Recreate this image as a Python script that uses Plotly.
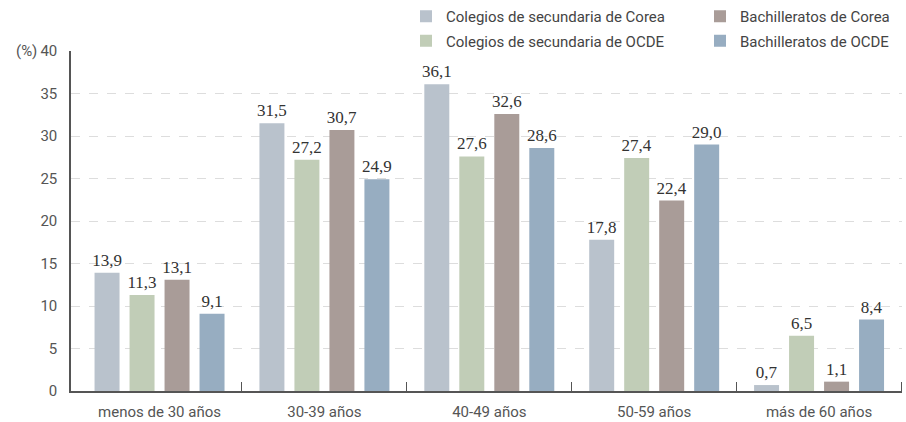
import plotly.graph_objects as go

# Age groups of teachers and share (%) by school type
categories = ["menos de 30 años", "30-39 años", "40-49 años", "50-59 años", "más de 60 años"]
series_names = [
    "Colegios de secundaria de Corea",
    "Colegios de secundaria de OCDE",
    "Bachilleratos de Corea",
    "Bachilleratos de OCDE",
]
sec_corea = [13.9, 31.5, 36.1, 17.8, 0.7]
sec_ocde = [11.3, 27.2, 27.6, 27.4, 6.5]
bach_corea = [13.1, 30.7, 32.6, 22.4, 1.1]
bach_ocde = [9.1, 24.9, 28.6, 29.0, 8.4]
y_ticks = [0, 5, 10, 15, 20, 25, 30, 35, 40]

colors = ["#b9c2cc", "#c1cdb7", "#a99c98", "#97adc1"]
values = [sec_corea, sec_ocde, bach_corea, bach_ocde]
legend_ids = ["legend", "legend", "legend2", "legend2"]

# numeric positions for the age groups; separators sit half-way between them
positions = list(range(len(categories)))
separators = [p + 0.5 for p in positions]

fig = go.Figure()
for i, (name, vals, col, lg) in enumerate(zip(series_names, values, colors, legend_ids)):
    fig.add_trace(go.Bar(
        x=positions, y=vals, name=name,
        marker=dict(color=col, line=dict(width=0)),
        texttemplate="%{y:.1f}", textposition="outside",
        textfont=dict(family="Liberation Serif", size=17, color="#333333"),
        constraintext="none", cliponaxis=False,
        legend=lg, legendgroup=f"g{i}",
    ))

legend_common = dict(
    orientation="v", xref="paper", yref="container",
    xanchor="left", yanchor="top",
    font=dict(family="Roboto", size=15, color="#444444"),
    bgcolor="rgba(0,0,0,0)", tracegroupgap=2, itemclick=False,
)

fig.update_layout(
    width=906, height=422,
    margin=dict(l=71, r=4, t=51, b=31, autoexpand=False),
    paper_bgcolor="white", plot_bgcolor="white",
    separators=", ",
    barmode="group", bargap=0.151, bargroupgap=0.286,
    showlegend=True,
    legend=dict(x=(406 - 71) / 831, y=1.0, **legend_common),
    legend2=dict(x=(700 - 71) / 831, y=1.0, **legend_common),
    xaxis=dict(
        range=[-0.537, 4.503],
        tickmode="array", tickvals=positions, ticktext=categories, ticks="",
        minor=dict(tickmode="array", tickvals=separators, ticks="inside",
                   ticklen=9, tickcolor="#555555", showgrid=False),
        showline=True, linecolor="#555555", linewidth=1.5,
        showgrid=False, zeroline=False, ticklabelstandoff=6,
        tickfont=dict(family="Roboto", size=15, color="#555555"),
    ),
    yaxis=dict(
        range=[0, 40], tickvals=y_ticks, showline=True, linecolor="#555555",
        linewidth=1.5, ticks="outside", ticklen=9, tickcolor="rgba(0,0,0,0)",
        showgrid=True, gridcolor="#dddddd",
        griddash="dash", gridwidth=1, zeroline=False,
        tickfont=dict(family="Roboto", size=15, color="#555555"),
    ),
    annotations=[dict(
        text="(%)", xref="paper", yref="y", x=0, y=40,
        xanchor="right", yanchor="middle", xshift=-32, showarrow=False,
        font=dict(family="Roboto", size=15, color="#555555"),
    )],
)

fig.write_html("out.html")
